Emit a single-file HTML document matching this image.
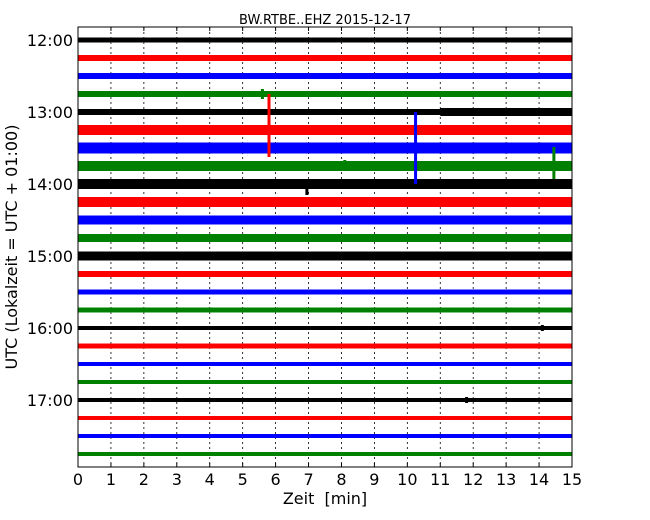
<!DOCTYPE html>
<html><head><meta charset="utf-8">
<style>
body{margin:0;background:#fff;}
svg{display:block;font-family:"DejaVu Sans","Liberation Sans",sans-serif;}
</style></head>
<body>
<svg id="chart" width="650" height="520"></svg>
<script>
// data
const hourLabels = ["12:00","13:00","14:00","15:00","16:00","17:00"];
const xTicks = [0,1,2,3,4,5,6,7,8,9,10,11,12,13,14,15];
const colors = ["#000000","#ff0000","#0000ff","#008000"];
// noise amplitude (full band height) per 15-min trace, 12:00 .. 17:45
const traceAmp = [5,6,6,6, 6,10,11,10, 10,10,9,8, 9,6,5,5, 4,5,4,4, 4,4,4,4];
// segments with different amplitude: [traceIndex, startMin, endMin, amp]
const segments = [[4,11,15,8],[12,13.5,15,5]];
// events: [traceIndex, minute, upPx, downPx]
const events = [[3,5.6,5,5],[3,12.3,3,3],[5,5.8,36,27],[6,10.25,36,36],[7,14.45,19,13],[7,8.1,6,5],[7,7.0,4,4],[8,6.95,2,11],[16,14.1,3,3],[20,11.8,3,3]];

const svg = document.getElementById('chart');
const NS = "http://www.w3.org/2000/svg";
const L=78, R=572, T=27, B=467;
const y0=40, dy=18;
const xs = m => L + (R-L)*m/15;
const ys = i => y0 + dy*i;
function mk(tag, attrs, parent){const e=document.createElementNS(NS,tag);for(const k in attrs)e.setAttribute(k,attrs[k]);(parent||svg).appendChild(e);return e;}

// grid
xTicks.forEach(t=>{ if(t>0&&t<15){
  const g=mk('line',{x1:xs(t),x2:xs(t),y1:T,y2:B,stroke:'#000','stroke-width':0.8,'stroke-dasharray':'2,3'});
  
  
}});

// traces
traceAmp.forEach((a,i)=>{
  const r=mk('rect',{x:L,y:ys(i)-a/2,width:R-L,height:a,fill:colors[i%4]});
  
  
});
segments.forEach(s=>{
  const [i,a0,a1,a]=s;
  const r=mk('rect',{x:xs(a0),y:ys(i)-a/2,width:xs(a1)-xs(a0),height:a,fill:colors[i%4]});
  
  
});
events.forEach(e=>{
  const [i,m,u,d]=e;
  const l=mk('line',{x1:xs(m),x2:xs(m),y1:ys(i)-u,y2:ys(i)+d,stroke:colors[i%4],'stroke-width':3});
  
  
});

// frame
const f=mk('rect',{x:L,y:T,width:R-L,height:B-T,fill:'none',stroke:'#000','stroke-width':1});



// x ticks
xTicks.forEach(t=>{
  mk('line',{x1:xs(t),x2:xs(t),y1:B,y2:B-4,stroke:'#000'});
  mk('line',{x1:xs(t),x2:xs(t),y1:T,y2:T+4,stroke:'#000'});
  const tx=mk('text',{x:xs(t),y:B+18,'text-anchor':'middle','font-size':16});
  tx.textContent=t;
  
  
});
// y ticks
hourLabels.forEach((h,k)=>{
  const y=ys(k*4);
  mk('line',{x1:L,x2:L+4,y1:y,y2:y,stroke:'#000'});
  mk('line',{x1:R,x2:R-4,y1:y,y2:y,stroke:'#000'});
  const tx=mk('text',{x:L-5,y:y+6,'text-anchor':'end','font-size':16});
  tx.textContent=h;
  
  
});

const title=mk('text',{x:(L+R)/2,y:24,'text-anchor':'middle','font-size':13});
title.textContent="BW.RTBE..EHZ 2015-12-17";



const xl=mk('text',{x:(L+R)/2,y:504,'text-anchor':'middle','font-size':16,style:'white-space:pre'});
xl.textContent="Zeit  [min]";



const yl=mk('text',{x:0,y:0,'text-anchor':'middle','font-size':16,transform:'translate(17,247) rotate(-90)'});
yl.textContent="UTC (Lokalzeit = UTC + 01:00)";


</script>
</body></html>
